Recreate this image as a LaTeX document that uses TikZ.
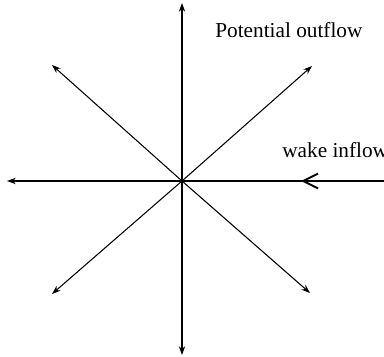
\documentclass[tikz,border=0pt]{standalone}
\usepackage{fontspec}
\setmainfont{Liberation Serif}
\usetikzlibrary{arrows.meta}
\tikzset{
  ray/.style={-{Stealth[length=5pt, width=3.6pt]}, line width=0.6pt},
  inflow/.style={line width=1.2pt},
  barb/.style={-{Straight Barb[length=8.5pt, width=8.5pt, line width=1.1pt]}, line width=1.2pt},
  lbl/.style={font=\fontsize{12.1}{14}\selectfont, inner sep=0pt, anchor=base west},
}
\begin{document}
\begin{tikzpicture}[x=0.02cm, y=-0.02cm]
  \useasboundingbox (0,0) rectangle (384,357);
  \coordinate (o) at (182,181);
  % outflow rays
  \coordinate (n) at (182,3);
  \coordinate (s) at (182,355);
  \coordinate (w) at (7,181);
  \coordinate (nw) at (52,65);
  \coordinate (ne) at (312,66);
  \coordinate (sw) at (52,294);
  \coordinate (se) at (310,293);
  \draw[ray] (o) -- (n);
  \draw[ray] (o) -- (s);
  \draw[ray] (o) -- (w);
  \draw[ray] (o) -- (nw);
  \draw[ray] (o) -- (ne);
  \draw[ray] (o) -- (sw);
  \draw[ray] (o) -- (se);
  % wake inflow
  \coordinate (e) at (384,181);
  \coordinate (m) at (301,181);
  \draw[inflow] (e) -- (o);
  \draw[barb] (e) -- (m);
  \node[lbl] (pot) at (215,38) {Potential outflow};
  \node[lbl] (wake) at (282,158) {wake inflow};
\end{tikzpicture}
\end{document}
